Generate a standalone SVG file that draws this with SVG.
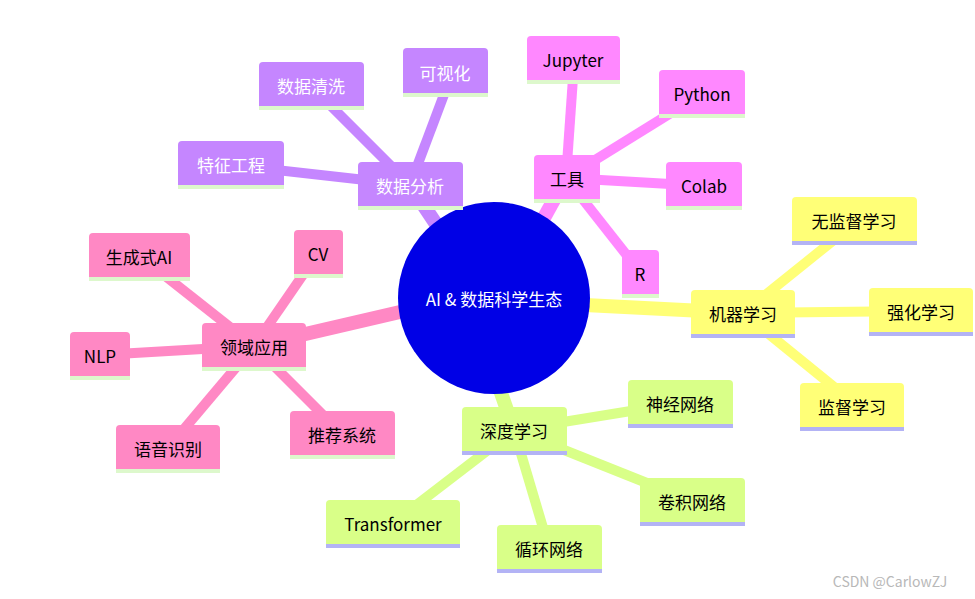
<svg xmlns="http://www.w3.org/2000/svg" width="975" height="599" viewBox="0 0 975 599">
<style>
text{font-family:"Noto Sans CJK SC","Noto Sans",sans-serif;font-size:17px;text-anchor:middle;dominant-baseline:central}
.e{stroke-linecap:butt;fill:none}
.p{fill:#c586ff}.pt{fill:#fff}
.m{fill:#ff88ff}.y{fill:#ffff77}.g{fill:#d9ff88}.r{fill:#ff88c4}
.s1{fill:#ddf8cc}.s2{fill:#b3b3f5}
</style>
<g id="connectors">
<g stroke="#c586ff" class="e">
<line x1="440" y1="230" x2="410" y2="185" stroke-width="14"/>
<line x1="410" y1="185" x2="232" y2="165" stroke-width="10"/>
<line x1="410" y1="185" x2="330" y2="105" stroke-width="10"/>
<line x1="410" y1="185" x2="445" y2="92" stroke-width="10"/>
</g>
<g stroke="#ff88ff" class="e">
<line x1="540" y1="225" x2="566" y2="178" stroke-width="14"/>
<line x1="566" y1="178" x2="573" y2="78" stroke-width="10"/>
<line x1="566" y1="178" x2="700" y2="95" stroke-width="10"/>
<line x1="566" y1="178" x2="705" y2="186" stroke-width="10"/>
<line x1="566" y1="178" x2="640" y2="272" stroke-width="10"/>
</g>
<g stroke="#ffff77" class="e">
<line x1="585" y1="305" x2="743" y2="313" stroke-width="14"/>
<line x1="743" y1="313" x2="840" y2="235" stroke-width="10"/>
<line x1="743" y1="313" x2="920" y2="311" stroke-width="10"/>
<line x1="743" y1="313" x2="850" y2="400" stroke-width="10"/>
</g>
<g stroke="#d9ff88" class="e">
<line x1="500" y1="390" x2="514" y2="430" stroke-width="14"/>
<line x1="514" y1="430" x2="680" y2="403" stroke-width="10"/>
<line x1="514" y1="430" x2="692" y2="501" stroke-width="10"/>
<line x1="514" y1="430" x2="549" y2="548" stroke-width="10"/>
<line x1="514" y1="430" x2="393" y2="523" stroke-width="10"/>
</g>
<g stroke="#ff88c4" class="e">
<line x1="400" y1="312" x2="254" y2="346" stroke-width="14"/>
<line x1="254" y1="346" x2="140" y2="256" stroke-width="10"/>
<line x1="254" y1="346" x2="318" y2="253" stroke-width="10"/>
<line x1="254" y1="346" x2="100" y2="355" stroke-width="10"/>
<line x1="254" y1="346" x2="168" y2="448" stroke-width="10"/>
<line x1="254" y1="346" x2="342" y2="434" stroke-width="10"/>
</g>
</g>
<g id="root"><circle cx="494" cy="298" r="96" fill="#0000e6"/><text x="494" y="298" fill="#fff">AI &amp; 数据科学生态</text></g>
<g id="n-sjfx"><rect x="358" y="162" width="105" height="48" rx="4" class="p"/><rect x="358" y="206" width="105" height="4" class="s1"/><text x="410" y="185" class="pt">数据分析</text></g>
<g id="n-tzgc"><rect x="178" y="141" width="106" height="48" rx="4" class="p"/><rect x="178" y="185" width="106" height="4" class="s1"/><text x="231" y="164" class="pt">特征工程</text></g>
<g id="n-sjqx"><rect x="259" y="62" width="105" height="48" rx="4" class="p"/><rect x="259" y="106" width="105" height="4" class="s1"/><text x="311" y="85" class="pt">数据清洗</text></g>
<g id="n-ksh"><rect x="403" y="48" width="85" height="49" rx="4" class="p"/><rect x="403" y="93" width="85" height="4" class="s1"/><text x="445" y="72" class="pt">可视化</text></g>
<g id="n-gj"><rect x="534" y="155" width="66" height="48" rx="4" class="m"/><rect x="534" y="199" width="66" height="4" class="s1"/><text x="567" y="178">工具</text></g>
<g id="n-jup"><rect x="527" y="36" width="93" height="48" rx="4" class="m"/><rect x="527" y="80" width="93" height="4" class="s1"/><text x="573" y="59">Jupyter</text></g>
<g id="n-py"><rect x="659" y="70" width="86" height="48" rx="4" class="m"/><rect x="659" y="114" width="86" height="4" class="s1"/><text x="702" y="93">Python</text></g>
<g id="n-colab"><rect x="666" y="162" width="76" height="48" rx="4" class="m"/><rect x="666" y="206" width="76" height="4" class="s1"/><text x="704" y="185">Colab</text></g>
<g id="n-r"><rect x="622" y="250" width="37" height="48" rx="4" class="m"/><rect x="622" y="294" width="37" height="4" class="s1"/><text x="640" y="273">R</text></g>
<g id="n-jqxx"><rect x="691" y="290" width="104" height="48" rx="4" class="y"/><rect x="691" y="334" width="104" height="4" class="s2"/><text x="743" y="313">机器学习</text></g>
<g id="n-wjd"><rect x="792" y="197" width="125" height="48" rx="4" class="y"/><rect x="792" y="241" width="125" height="4" class="s2"/><text x="854" y="220">无监督学习</text></g>
<g id="n-qh"><rect x="869" y="288" width="104" height="48" rx="4" class="y"/><rect x="869" y="332" width="104" height="4" class="s2"/><text x="921" y="311">强化学习</text></g>
<g id="n-jd"><rect x="800" y="383" width="104" height="48" rx="4" class="y"/><rect x="800" y="427" width="104" height="4" class="s2"/><text x="852" y="406">监督学习</text></g>
<g id="n-sdxx"><rect x="462" y="407" width="105" height="48" rx="4" class="g"/><rect x="462" y="451" width="105" height="4" class="s2"/><text x="514" y="430">深度学习</text></g>
<g id="n-sjwl"><rect x="628" y="380" width="105" height="48" rx="4" class="g"/><rect x="628" y="424" width="105" height="4" class="s2"/><text x="680" y="403">神经网络</text></g>
<g id="n-jjwl"><rect x="640" y="478" width="105" height="48" rx="4" class="g"/><rect x="640" y="522" width="105" height="4" class="s2"/><text x="692" y="501">卷积网络</text></g>
<g id="n-xhwl"><rect x="497" y="525" width="105" height="48" rx="4" class="g"/><rect x="497" y="569" width="105" height="4" class="s2"/><text x="549" y="548">循环网络</text></g>
<g id="n-tf"><rect x="326" y="500" width="134" height="48" rx="4" class="g"/><rect x="326" y="544" width="134" height="4" class="s2"/><text x="393" y="523">Transformer</text></g>
<g id="n-lyyy"><rect x="202" y="323" width="104" height="48" rx="4" class="r"/><rect x="202" y="367" width="104" height="4" class="s1"/><text x="254" y="346">领域应用</text></g>
<g id="n-scs"><rect x="89" y="233" width="101" height="48" rx="4" class="r"/><rect x="89" y="277" width="101" height="4" class="s1"/><text x="139" y="256">生成式AI</text></g>
<g id="n-cv"><rect x="294" y="230" width="49" height="48" rx="4" class="r"/><rect x="294" y="274" width="49" height="4" class="s1"/><text x="318" y="253">CV</text></g>
<g id="n-nlp"><rect x="70" y="332" width="60" height="48" rx="4" class="r"/><rect x="70" y="376" width="60" height="4" class="s1"/><text x="100" y="355">NLP</text></g>
<g id="n-yysb"><rect x="116" y="425" width="104" height="48" rx="4" class="r"/><rect x="116" y="469" width="104" height="4" class="s1"/><text x="168" y="448">语音识别</text></g>
<g id="n-tjxt"><rect x="290" y="411" width="105" height="48" rx="4" class="r"/><rect x="290" y="455" width="105" height="4" class="s1"/><text x="342" y="434">推荐系统</text></g>
<text x="890" y="581" style="font-size:14px;fill:#b8b8b8">CSDN @CarlowZJ</text>
</svg>
